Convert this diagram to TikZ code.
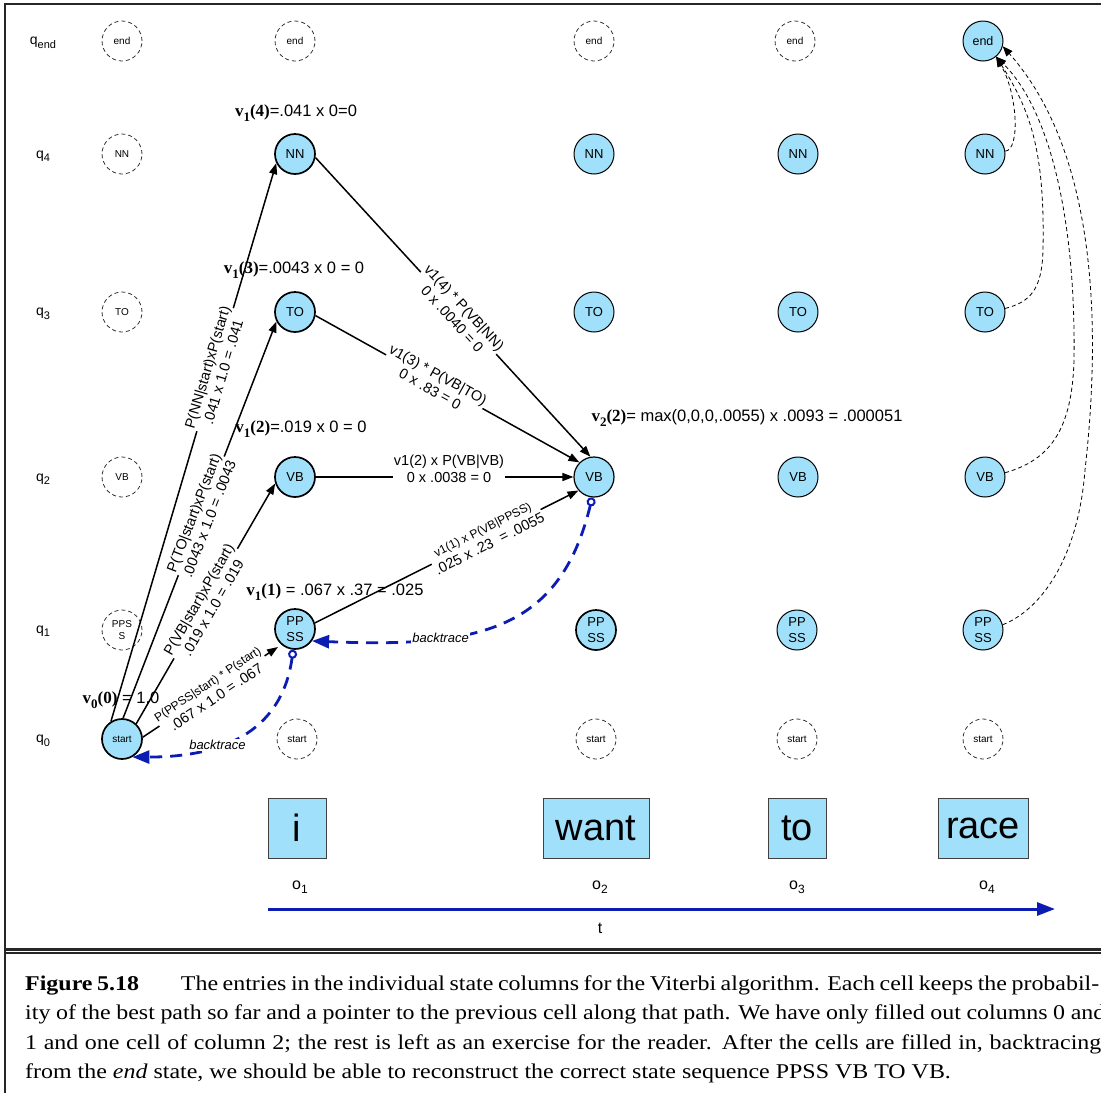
\documentclass[tikz,border=0pt]{standalone}
\usepackage{fontspec}
\setmainfont{Liberation Serif}
\setsansfont{Liberation Sans}
\newfontfamily\capfont[FakeStretch=1.14]{Liberation Serif}
\usetikzlibrary{arrows.meta}
\definecolor{nodefill}{RGB}{160,224,250}
\definecolor{tblue}{RGB}{12,28,178}
\newcommand{\vlab}[2]{{\rmfamily\bfseries\fontsize{17}{17}\selectfont v\raisebox{-4.5pt}{\fontsize{13}{13}\selectfont #1}(#2)}}
\newcommand{\qlab}[1]{q\raisebox{-3.5pt}{\fontsize{11}{11}\selectfont #1}}
\newcommand{\olab}[1]{o\raisebox{-4pt}{\fontsize{12}{12}\selectfont #1}}
\tikzset{
  dnode/.style={circle, draw=black!80, dash pattern=on 4pt off 3pt, line width=0.8pt, minimum size=40pt, inner sep=0pt, font=\sffamily\fontsize{10}{12}\selectfont, align=center},
  fnode/.style={circle, draw=black, fill=nodefill, line width=1pt, minimum size=40pt, inner sep=0pt, font=\sffamily\fontsize{13}{16}\selectfont, align=center},
  fthick/.style={fnode, line width=1.7pt},
  rowlab/.style={font=\sffamily\fontsize{14}{14}\selectfont},
  vallab/.style={font=\sffamily\fontsize{16.5}{16.5}\selectfont, inner sep=0pt},
  edge/.style={line width=1.5pt, -{Triangle[length=11pt,width=8pt]}},
  elab/.style={sloped, fill=white, inner sep=0.5pt, align=center, font=\sffamily\fontsize{14.5}{16.5}\selectfont},
  btrace/.style={draw=tblue, line width=2.8pt, dash pattern=on 12pt off 8pt, {Circle[open,length=9pt,width=9pt,line width=2pt]}-{Triangle[length=17pt,width=13pt]}},
  btlab/.style={fill=white, inner sep=1pt, font=\sffamily\itshape\fontsize{13}{13}\selectfont},
  endarrow/.style={line width=0.8pt, dash pattern=on 4pt off 3pt, -{Triangle[length=10pt,width=8pt]}},
  obs/.style={draw=black!75, fill=nodefill, line width=0.8pt, minimum height=60pt, inner sep=0pt, font=\sffamily\fontsize{38}{38}\selectfont},
  olabel/.style={font=\sffamily\fontsize{16}{16}\selectfont},
  tarrow/.style={draw=tblue, line width=3pt, -{Triangle[length=18pt,width=13pt]}},
  capline/.style={anchor=base west, inner sep=0pt, font=\capfont\fontsize{21}{21}\selectfont},
}
\begin{document}
\begin{tikzpicture}[x=1pt,y=-1pt]
\useasboundingbox (0,0) rectangle (1101,1093);
\fill[white] (0,0) rectangle (1101,1093);

% frame
\draw[line width=2.5pt, black!85] (5,1093) -- (5,4) -- (1101,4);
\draw[line width=3pt, black!85] (5,949) -- (1101,949);
\draw[line width=1.5pt, black!85] (5,953) -- (1101,953);

% row labels
\node[rowlab] (rend) at (43,43) {\qlab{end}};
\node[rowlab] (r4) at (43,156) {\qlab{4}};
\node[rowlab] (r3) at (43,314) {\qlab{3}};
\node[rowlab] (r2) at (43,479) {\qlab{2}};
\node[rowlab] (r1) at (43,631) {\qlab{1}};
\node[rowlab] (r0) at (43,741) {\qlab{0}};

% column 0
\node[dnode] (end0) at (122,41) {end};
\node[dnode] (NN0) at (122,154) {NN};
\node[dnode] (TO0) at (122,312) {TO};
\node[dnode] (VB0) at (122,477) {VB};
\node[dnode] (PPSS0) at (122,630) {PPS\\S};
\node[fthick, font=\sffamily\fontsize{10}{12}\selectfont] (start0) at (122,739) {start};

% column 1
\node[dnode] (end1) at (295,41) {end};
\node[fthick] (NN1) at (295,154) {NN};
\node[fthick] (TO1) at (295,312) {TO};
\node[fthick] (VB1) at (295,477) {VB};
\node[fthick] (PPSS1) at (295,629) {PP\\SS};
\node[dnode] (start1) at (297,739) {start};

% column 2
\node[dnode] (end2) at (594,41) {end};
\node[fnode] (NN2) at (594,154) {NN};
\node[fnode] (TO2) at (594,312) {TO};
\node[fnode, line width=1.2pt] (VB2) at (594,477) {VB};
\node[fthick] (PPSS2) at (596,630) {PP\\SS};
\node[dnode] (start2) at (596,739) {start};

% column 3
\node[dnode] (end3) at (795,41) {end};
\node[fnode] (NN3) at (798,154) {NN};
\node[fnode] (TO3) at (798,312) {TO};
\node[fnode] (VB3) at (798,477) {VB};
\node[fnode] (PPSS3) at (797,630) {PP\\SS};
\node[dnode] (start3) at (797,739) {start};

% column 4
\node[fnode, font=\sffamily\fontsize{12.5}{14}\selectfont] (end4) at (983,41) {end};
\node[fnode] (NN4) at (985,154) {NN};
\node[fnode] (TO4) at (985,312) {TO};
\node[fnode] (VB4) at (985,477) {VB};
\node[fnode] (PPSS4) at (983,630) {PP\\SS};
\node[dnode] (start4) at (983,739) {start};

% value labels
\node[vallab] (v14) at (296,113) {\vlab{1}{4}=.041 x 0=0};
\node[vallab] (v13) at (294,270) {\vlab{1}{3}=.0043 x 0 = 0};
\node[vallab] (v12) at (301,429) {\vlab{1}{2}=.019 x 0 = 0};
\node[vallab] (v00) at (121,700) {\vlab{0}{0} = 1.0};
\node[vallab] (v22) at (747,418) {\vlab{2}{2}= max(0,0,0,.0055) x .0093 = .000051};

% edges from start
\draw[edge] (start0.122) -- (NN1.206) node[elab, pos=0.63] {P(NN|start)xP(start)\\.041 x 1.0 = .041};
\draw[edge] (start0.87) -- (TO1.207) node[elab, pos=0.51] {P(TO|start)xP(start)\\.0043 x 1.0 = .0043};
\draw[edge] (start0.47) -- (VB1.198) node[elab, pos=0.5] {P(VB|start)xP(start)\\.019 x 1.0 = .019};
\draw[edge, shorten >=4pt] (start0.5) -- (PPSS1.229) node[elab, pos=0.5] {{\fontsize{12}{12}\selectfont P(PPSS|start) * P(start)}\\.067 x 1.0 = .067};

% edges into VB2
\draw[edge] (NN1.-10) -- (VB2.100) node[elab, pos=0.52] {v1(4) * P(VB|NN)\\0 x .0040 = 0};
\draw[edge] (TO1.-10) -- (VB2.135) node[elab, pos=0.45] {v1(3) * P(VB|TO)\\0 x .83 = 0};
\draw[edge] (VB1) -- (VB2) node[elab, pos=0.517, yshift=8pt] {v1(2) x P(VB|VB)\\0 x .0038 = 0};
\draw[edge] (PPSS1.17) -- (VB2.221) node[elab, pos=0.65] {{\fontsize{12}{12}\selectfont v1(1) x P(VB|PPSS)}\\.025 x .23 \ = .0055};

\node[vallab] (v11) at (335,592) {\vlab{1}{1} = .067 x .37 = .025};

% backtraces
\draw[btrace] (VB2.265) .. controls (560,630) and (480,648) .. (PPSS1.-35) node[btlab, pos=0.7] {backtrace};
\draw[btrace] (PPSS1.265) .. controls (285,710) and (250,757) .. (start0.-60) node[btlab, pos=0.7] {backtrace};

% dashed arrows to end
\draw[endarrow] (NN4.8) .. controls (1020,150) and (1018,95) .. (end4.-50);
\draw[endarrow] (TO4.10) .. controls (1030,302) and (1042,290) .. (1043,250) .. controls (1045,150) and (1030,110) .. (end4.-50);
\draw[endarrow] (VB4.12) .. controls (1050,460) and (1072,430) .. (1074,360) .. controls (1076,220) and (1050,110) .. (end4.-50);
\draw[endarrow] (PPSS4.15) .. controls (1040,610) and (1078,560) .. (1085,470) .. controls (1102,320) and (1095,150) .. (end4.-15);

% observations
\node[obs, minimum width=58pt] (w1) at (297,828) {i};
\node[obs, minimum width=106pt] (w2) at (596,828) {want};
\node[obs, minimum width=58pt] (w3) at (797,828) {to};
\node[obs, minimum width=90pt] (w4) at (983,828) {race};
\node[olabel] (o1) at (300,887) {\olab{1}};
\node[olabel] (o2) at (600,887) {\olab{2}};
\node[olabel] (o3) at (797,887) {\olab{3}};
\node[olabel] (o4) at (987,887) {\olab{4}};
\coordinate (t0) at (268,909);
\coordinate (t1) at (1055,909);
\draw[tarrow] (t0) -- (t1);
\node[olabel] (tlab) at (600,928) {t};

% caption
\node[capline] (cap1) at (25,990) {\makebox[1074pt][s]{\textbf{Figure 5.18}\hspace{2em}The entries in the individual state columns for the Viterbi algorithm. Each cell keeps the probabil-}};
\node[capline] (cap2) at (25,1019.5) {\makebox[1080pt][s]{ity of the best path so far and a pointer to the previous cell along that path. We have only filled out columns 0 and}};
\node[capline] (cap3) at (25,1049) {\makebox[1076pt][s]{1 and one cell of column 2; the rest is left as an exercise for the reader. After the cells are filled in, backtracing}};
\node[capline] (cap4) at (25,1078.5) {from the \textit{end} state, we should be able to reconstruct the correct state sequence PPSS VB TO VB.};
\end{tikzpicture}
\end{document}
